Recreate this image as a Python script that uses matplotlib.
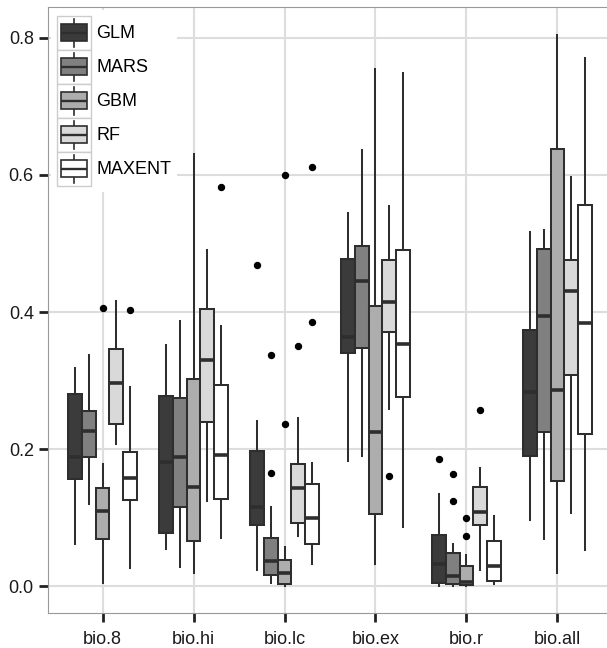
import matplotlib
matplotlib.use("Agg")
import matplotlib.pyplot as plt
from matplotlib.patches import Patch, Rectangle
from matplotlib.lines import Line2D
from matplotlib.legend_handler import HandlerBase

plt.rcParams['font.family'] = ['Liberation Sans', 'DejaVu Sans']

# categories and models
groups = ['bio.8', 'bio.hi', 'bio.lc', 'bio.ex', 'bio.r', 'bio.all']
models = ['GLM', 'MARS', 'GBM', 'RF', 'MAXENT']
fills = ['#3b3b3b', '#808080', '#adadad', '#d9d9d9', '#ffffff']

# five-number summaries per group: (lower whisker, q1, median, q3, upper whisker)
glm = [(0.061, 0.156, 0.189, 0.280, 0.319),
       (0.054, 0.078, 0.181, 0.277, 0.352),
       (0.023, 0.090, 0.116, 0.198, 0.241),
       (0.183, 0.341, 0.363, 0.478, 0.544),
       (0.001, 0.005, 0.032, 0.075, 0.135),
       (0.096, 0.190, 0.284, 0.374, 0.517)]
mars = [(0.120, 0.189, 0.226, 0.255, 0.338),
        (0.028, 0.116, 0.188, 0.275, 0.387),
        (0.005, 0.016, 0.037, 0.070, 0.116),
        (0.190, 0.347, 0.446, 0.497, 0.637),
        (0.001, 0.003, 0.015, 0.049, 0.062),
        (0.069, 0.225, 0.394, 0.492, 0.520)]
gbm = [(0.005, 0.069, 0.110, 0.143, 0.179),
       (0.020, 0.066, 0.145, 0.303, 0.631),
       (0.000, 0.003, 0.020, 0.038, 0.058),
       (0.033, 0.105, 0.225, 0.409, 0.755),
       (0.000, 0.002, 0.006, 0.030, 0.045),
       (0.019, 0.153, 0.286, 0.638, 0.804)]
rf = [(0.208, 0.237, 0.297, 0.346, 0.416),
      (0.125, 0.239, 0.330, 0.405, 0.491),
      (0.073, 0.093, 0.143, 0.178, 0.246),
      (0.259, 0.371, 0.415, 0.476, 0.554),
      (0.023, 0.089, 0.108, 0.145, 0.172),
      (0.107, 0.308, 0.431, 0.476, 0.597)]
maxent = [(0.027, 0.126, 0.158, 0.196, 0.290),
          (0.070, 0.128, 0.192, 0.293, 0.380),
          (0.033, 0.062, 0.100, 0.149, 0.180),
          (0.086, 0.276, 0.353, 0.490, 0.748),
          (0.003, 0.008, 0.030, 0.066, 0.102),
          (0.053, 0.222, 0.384, 0.556, 0.771)]

# outliers per group
glm_out = [[], [], [0.469], [], [0.186], []]
mars_out = [[], [], [0.165, 0.337], [], [0.125, 0.164], []]
gbm_out = [[0.406], [], [0.237, 0.600], [], [0.074, 0.099], []]
rf_out = [[], [], [0.350], [0.161], [0.257], []]
maxent_out = [[0.403], [0.582], [0.385, 0.611], [], [], []]

summaries = [glm, mars, gbm, rf, maxent]
outliers = [glm_out, mars_out, gbm_out, rf_out, maxent_out]

EDGE = '#2e2e2e'
W = 0.15

fig = plt.figure(figsize=(6.07, 6.48), dpi=100)
ax = fig.add_axes([48 / 607, 35 / 648, 564 / 607, 606 / 648])

for j, (summ, outs, col) in enumerate(zip(summaries, outliers, fills)):
    stats = []
    for (lo, q1, med, q3, hi), fl in zip(summ, outs):
        stats.append(dict(whislo=lo, q1=q1, med=med, q3=q3, whishi=hi, fliers=fl))
    pos = [i + 1 + (j - 2) * W for i in range(len(groups))]
    ax.bxp(stats, positions=pos, widths=W, patch_artist=True, showcaps=False,
           boxprops=dict(facecolor=col, edgecolor=EDGE, linewidth=1.45),
           whiskerprops=dict(color=EDGE, linewidth=1.45),
           medianprops=dict(color=EDGE, linewidth=2.6, solid_capstyle='butt'),
           flierprops=dict(marker='o', markerfacecolor='black', markeredgecolor='black',
                           markersize=4.3, linestyle='none'),
           manage_ticks=False, zorder=3)

ax.set_xlim(0.4, 6.6)
ax.set_ylim(-0.039, 0.845)
ax.set_xticks(range(1, len(groups) + 1))
ax.set_xticklabels(groups)
ax.set_yticks([0.0, 0.2, 0.4, 0.6, 0.8])
ax.set_yticklabels(['0.0', '0.2', '0.4', '0.6', '0.8'])
ax.grid(True, color='#dddddd', linewidth=1.5, zorder=0)
ax.set_axisbelow(True)
for s in ax.spines.values():
    s.set_color('#999999')
    s.set_linewidth(0.8)
ax.tick_params(axis='both', length=6.2, width=2.0, color='#222222',
               labelsize=13, labelcolor='#1a1a1a')
ax.tick_params(axis='x', pad=6.5)
ax.tick_params(axis='y', pad=4)


class BoxKey(HandlerBase):
    def create_artists(self, legend, orig_handle, xdescent, ydescent,
                       width, height, fontsize, trans):
        x0, y0 = -xdescent, -ydescent
        key = Rectangle((x0, y0), width, height, facecolor='white',
                        edgecolor='#cccccc', lw=1.0, transform=trans)
        bx0 = x0 + 0.13 * width
        bw = 0.74 * width
        by0 = y0 + 0.25 * height
        bh = 0.5 * height
        cx = x0 + width / 2
        wl = Line2D([cx, cx], [y0 + 0.1 * height, by0], color=EDGE, lw=1.2, transform=trans)
        wu = Line2D([cx, cx], [by0 + bh, y0 + 0.9 * height], color=EDGE, lw=1.2, transform=trans)
        box = Rectangle((bx0, by0), bw, bh, facecolor=orig_handle.get_facecolor(),
                        edgecolor=EDGE, lw=1.2, transform=trans)
        med = Line2D([bx0, bx0 + bw], [by0 + bh / 2] * 2, color=EDGE, lw=1.7,
                     solid_capstyle='butt', transform=trans)
        return [key, wl, wu, box, med]


handles = [Patch(facecolor=c) for c in fills]
leg = ax.legend(handles, models, handler_map={Patch: BoxKey()},
                loc='upper left', bbox_to_anchor=(51 / 607, 1 - 10 / 648),
                bbox_transform=fig.transFigure, borderaxespad=0, borderpad=0.33,
                handlelength=1.9, handleheight=2.52, handletextpad=0.28,
                labelspacing=0, fontsize=13, frameon=True, fancybox=False,
                facecolor='white', edgecolor='none', framealpha=1)
leg.set_zorder(5)

fig.savefig('out.png', dpi=100)
